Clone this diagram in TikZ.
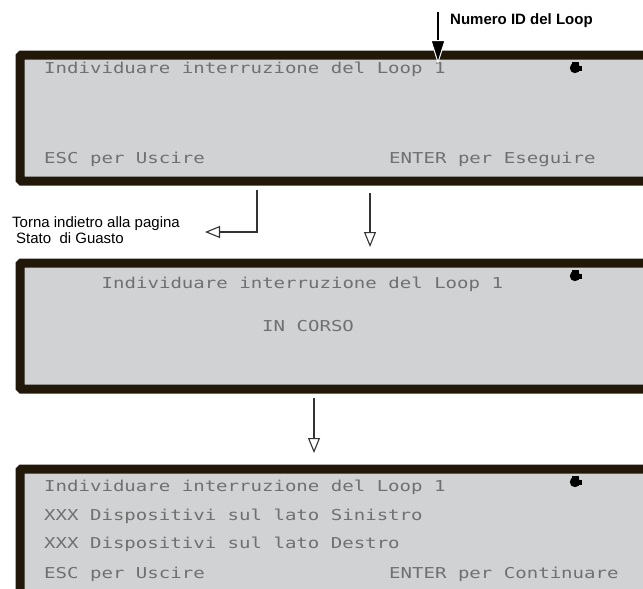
\documentclass[tikz,border=0pt]{standalone}
\usepackage{fontspec}
\setmainfont{Liberation Sans}
\newfontfamily\lcdfont[FakeStretch=1.27]{DejaVu Sans Mono}
\usetikzlibrary{arrows.meta}
\definecolor{framecol}{HTML}{21180A}
\definecolor{lcdbg}{HTML}{D1D2D4}
\definecolor{lcdtxt}{HTML}{707070}
\definecolor{conncol}{HTML}{333333}
\begin{document}
\begin{tikzpicture}[x=1pt,y=-1pt,
  screen/.style={draw=framecol, fill=lcdbg, line width=9pt, rounded corners=1.5pt,
    inner sep=0pt, minimum width=660pt, minimum height=126pt, anchor=north west},
  lcd/.style={font=\lcdfont\fontsize{15}{15}\selectfont, text=lcdtxt, anchor=base west, inner sep=0pt},
  note/.style={font=\fontsize{15}{16}\selectfont, anchor=base west, inner sep=0pt},
  conn/.style={draw=conncol, line width=1.1pt, -{Triangle[open, length=15pt, width=12pt, line width=1.1pt]}},
]
\useasboundingbox (0,0) rectangle (643,589);
\clip (0,0) rectangle (643,589);
\fill[white] (0,0) rectangle (643,589);

% screens
\node[screen] (s1) at (15.5,50.5) {};
\node[screen] (s2) at (15.5,258.5) {};
\node[screen] (s3) at (15.5,464.5) {};

% screen 1 texts
\node[lcd] (s1l1) at (44,73) {Individuare interruzione del Loop 1};
\node[lcd] (s1esc) at (44,163) {ESC per Uscire};
\node[lcd] (s1ent) at (389,163) {ENTER per Eseguire};

% screen 2 texts
\node[lcd] (s2l1) at (101.5,288) {Individuare interruzione del Loop 1};
\node[lcd] (s2l2) at (262,331) {IN CORSO};

% screen 3 texts
\node[lcd] (s3l1) at (44,491) {Individuare interruzione del Loop 1};
\node[lcd] (s3l2) at (44,520) {XXX Dispositivi sul lato Sinistro};
\node[lcd] (s3l3) at (44,548) {XXX Dispositivi sul lato Destro};
\node[lcd] (s3esc) at (44,578) {ESC per Uscire};
\node[lcd] (s3ent) at (389,578) {ENTER per Continuare};

% status symbols
\foreach \yy in {68,276,482} {
  \fill[black] (575,\yy) circle (5.2);
  \fill[black] (576,\yy-2.5) rectangle (582,\yy+2.5);
  \fill[black] (571.5,\yy-5.8) rectangle (578.5,\yy-3);
}

% annotations
\node[note, font=\bfseries\fontsize{15}{16}\selectfont] (numid) at (450,24) {Numero ID del Loop};
\node[note] (back1) at (12,227) {Torna indietro alla pagina};
\node[note] (back2) at (16,243) {Stato\ \ di Guasto};

% connectors
\coordinate (numtop) at (438,12);
\coordinate (numtip) at (438,64);
\draw[line width=1.3pt, black, -{Triangle[length=24pt, width=15pt, color=white, fill=black, line width=1pt]}] (numtop) -- (numtip);

\coordinate (c1a) at (257,190);
\coordinate (c1b) at (205,232);
\draw[conn] (c1a) |- (c1b);

\coordinate (c2a) at (370,193);
\coordinate (c2b) at (370,247);
\draw[conn] (c2a) -- (c2b);

\coordinate (c3a) at (314,398);
\coordinate (c3b) at (314,453);
\draw[conn] (c3a) -- (c3b);
\end{tikzpicture}
\end{document}
